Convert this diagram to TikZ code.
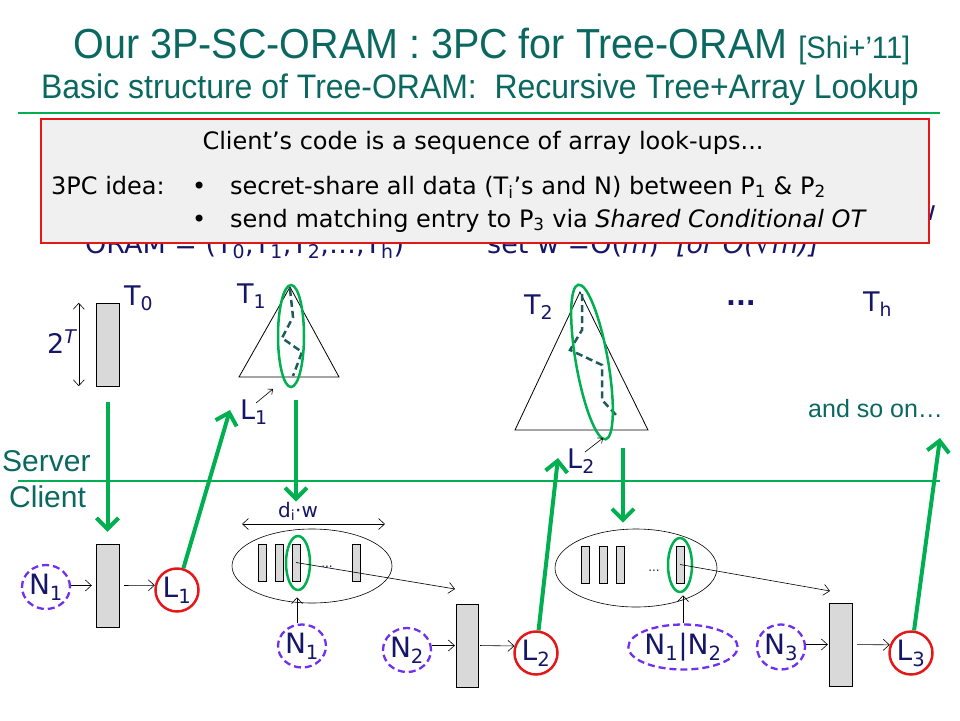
\documentclass[tikz,border=0pt]{standalone}
\usepackage{fontspec}
\setmainfont{DejaVu Sans}
\newfontfamily\titlefont[FakeStretch=0.94]{Liberation Sans}
\newfontfamily\arialfont{Liberation Sans}
\usepackage{tikz}
\usetikzlibrary{shapes,arrows,arrows.meta,calc}
\definecolor{titleteal}{RGB}{10,104,96}
\definecolor{navy}{RGB}{22,22,104}
\definecolor{pickgreen}{RGB}{0,176,80}
\definecolor{idxviolet}{RGB}{112,48,240}
\definecolor{leafred}{RGB}{228,24,24}
\definecolor{walkteal}{RGB}{30,92,92}
\definecolor{bucketgray}{RGB}{217,217,217}
\definecolor{boxgray}{RGB}{240,240,240}
\newcommand{\fsz}[1]{\fontsize{#1}{#1}\selectfont}
\tikzset{>={Straight Barb[length=6pt,width=11pt]},
  lbl/.style={text=navy, inner sep=0pt, anchor=base west, font=\fsz{27}},
  bucket/.style={draw, fill=bucketgray, minimum width=23pt, minimum height=83pt, inner sep=0pt},
  slot/.style={draw, fill=bucketgray, minimum width=8pt, minimum height=37pt, inner sep=0pt},
  leaf/.style={circle, draw=leafred, line width=2.5pt, minimum size=43pt, inner sep=0pt, text=navy, font=\fsz{28}},
  idx/.style={ellipse, draw=idxviolet, line width=2.3pt, dash pattern=on 7pt off 4pt, inner sep=0pt, text=navy, font=\fsz{28}},
  pick/.style={ellipse, draw=pickgreen, line width=2.5pt, inner sep=0pt},
  fetch/.style={-{Straight Barb[length=11pt,width=22pt]}, draw=pickgreen, line width=4pt},
  walk/.style={draw=walkteal, line width=2.5pt, dash pattern=on 7pt off 4pt},
  feed/.style={->, line width=0.6pt},
  sepline/.style={draw=pickgreen, line width=1.2pt},
  boxtxt/.style={text=black, font=\fsz{24}, inner sep=0pt, anchor=base west}
}
\begin{document}
\begin{tikzpicture}[x=1pt,y=-1pt]
\useasboundingbox (0,0) rectangle (960,720);
% title
\node[text=titleteal, font=\titlefont\fsz{42}, inner sep=0pt] (title) at (492,47) {Our 3P-SC-ORAM : 3PC for Tree-ORAM {\fsz{31}[Shi+’11]}};
\node[text=titleteal, font=\titlefont\fsz{34}, inner sep=0pt] (subtitle) at (480,90) {Basic structure of Tree-ORAM:\ \ Recursive Tree+Array Lookup};
\draw[sepline] (18,113) -- (940,113);
% text behind the box
\node[lbl] (oram) at (85,253) {ORAM = (T\textsubscript{0},T\textsubscript{1},T\textsubscript{2},…,T\textsubscript{h})};
\node[lbl] (setw) at (487,253) {set w =O(\textit{m})\ \ \textit{[or O(√m)]}};
\node[lbl] (wtail) at (914,220) {w};
% box
\node[draw=leafred, fill=boxgray, line width=1.8pt, minimum width=888pt, minimum height=124pt, anchor=north west, inner sep=0pt] (box) at (40,118) {};
\node[boxtxt, anchor=base] (code) at (483,149) {Client’s code is a sequence of array look-ups...};
\node[boxtxt] (idea) at (51,194) {3PC idea:};
\node[boxtxt] (bul1) at (192,194) {•};
\node[boxtxt] (share) at (230,194) {secret-share all data (T\textsubscript{i}’s and N) between P\textsubscript{1} \& P\textsubscript{2}};
\node[boxtxt] (bul2) at (192,227) {•};
\node[boxtxt] (send) at (230,227) {send matching entry to P\textsubscript{3} via \textit{Shared Conditional OT}};

% server side
\node[bucket] (tb0) at (107.5,344.5) {};
\node[lbl] (t0) at (124,305) {T\textsubscript{0}};
\draw[<->, line width=0.6pt] ([xshift=-17pt]tb0.north west) -- ([xshift=-17pt]tb0.south west);
\node[lbl] (tau) at (47,353) {2\textsuperscript{\textit{T}}};

\coordinate (t1top) at (290,287);
\draw[line width=0.8pt] (t1top) -- (339,377) -- (239,377) -- cycle;
\draw[walk] (290,289) -- (293,317) -- (282,338) -- (302,352) -- (293,376);
\node[pick, minimum width=26pt, minimum height=102pt] (pt1) at (291,336) {};
\node[lbl] (t1) at (237,303) {T\textsubscript{1}};
\node[lbl] (tl1) at (240,419) {L\textsubscript{1}};
\coordinate (leaf1) at (273,389);
\draw[feed, >={Straight Barb[length=4pt,width=7pt]}] (256,403) -- (leaf1);

\coordinate (t2top) at (580,292);
\draw[line width=0.8pt] (t2top) -- (648,430) -- (515,430) -- cycle;
\draw[walk] (582,294) -- (582,330) -- (570,350) -- (602,365) -- (602,400) -- (618,417);
\node[pick, rotate=10, minimum width=32pt, minimum height=157pt] (pt2) at (592,362) {};
\node[lbl] (t2) at (524,314) {T\textsubscript{2}};
\node[lbl] (tl2) at (567,468) {L\textsubscript{2}};
\coordinate (leaf2) at (603,438);
\draw[feed, >={Straight Barb[length=4pt,width=7pt]}] (585,452) -- (leaf2);

\node[lbl, font=\bfseries\fsz{26}] (more) at (726,305) {...};
\node[lbl] (th) at (863,311) {T\textsubscript{h}};
\node[text=titleteal, font=\arialfont\fsz{25}, inner sep=0pt, anchor=base west] (soon) at (808,417) {and so on…};

% server / client
\draw[sepline] (18,481) -- (940,481);
\node[text=titleteal, font=\arialfont\fsz{30}, inner sep=0pt, anchor=base west] (server) at (2,471) {Server};
\node[text=titleteal, font=\arialfont\fsz{30}, inner sep=0pt, anchor=base west] (client) at (9,507) {Client};

% client side, level 0
\node[idx, minimum width=42pt, minimum height=44pt] (n1a) at (46,587) {N\textsubscript{1}};
\node[bucket] (cb1) at (107.5,585.5) {};
\node[leaf] (l1) at (177,590) {L\textsubscript{1}};
\draw[feed, shorten >=4pt] (n1a.east |- cb1) -- (cb1.west);
\draw[feed, shorten <=5pt] (cb1.east) -- (l1.168);

% level 1
\node[ellipse, draw, line width=0.6pt, minimum width=160pt, minimum height=74pt, inner sep=0pt] (ell1) at (312,566) {};
\foreach \x [count=\i] in {262,279,296,356}
  \node[slot] (s1\i) at (\x,562.5) {};
\node[pick, minimum width=24pt, minimum height=54pt] (pk1) at (298,563) {};
\node[text=navy, font=\fsz{12}, inner sep=0pt] (dots1) at (327,567) {...};
\draw[<->, line width=0.6pt] (242,524) -- (385,524);
\node[lbl, font=\fsz{20}, anchor=base] (dw) at (298,517) {d\textsubscript{i}·w};
\node[idx, minimum width=43pt, minimum height=43pt] (n1b) at (302,646) {N\textsubscript{1}};
\draw[feed, shorten >=6pt] (n1b.north -| 297,0) -- (pk1.south -| 297,0);
\node[idx, minimum width=42pt, minimum height=44pt] (n2) at (407,650) {N\textsubscript{2}};
\node[bucket, minimum width=22pt] (cb2) at (467,645.5) {};
\node[leaf] (l2) at (536,653) {L\textsubscript{2}};
\coordinate (cb2in) at (455,589);
\draw[feed] (s13.center) -- (cb2in);
\draw[feed, shorten >=1pt] (n2.east |- cb2) -- (cb2.west);
\draw[feed, shorten <=2pt] (cb2.east) -- (l2.162);

% level 2
\node[ellipse, draw, line width=0.6pt, minimum width=162pt, minimum height=78pt, inner sep=0pt] (ell2) at (636,568) {};
\foreach \x [count=\i] in {585,603,620,680}
  \node[slot] (s2\i) at (\x,564.5) {};
\node[pick, minimum width=24pt, minimum height=54pt] (pk2) at (680,565) {};
\node[text=navy, font=\fsz{12}, inner sep=0pt] (dots2) at (654,571) {...};
\node[idx, minimum width=100pt, minimum height=45pt] (n12) at (683,647) {N\textsubscript{1}|N\textsubscript{2}};
\draw[feed, shorten >=2pt] (n12.north) -- (pk2.south -| n12.north);
\node[idx, minimum width=48pt, minimum height=45pt] (n3) at (781,647) {N\textsubscript{3}};
\node[bucket] (cb3) at (840.5,644.5) {};
\node[leaf] (l3) at (911,653) {L\textsubscript{3}};
\coordinate (cb3in) at (830,591);
\draw[feed] (s24.center) -- (cb3in);
\draw[feed, shorten >=1pt] (n3.east |- cb3) -- (cb3.west);
\draw[feed, shorten <=5pt] (cb3.east) -- (l3.159);

% server <-> client transfers
\draw[fetch, shorten <=16pt, shorten >=12pt] (tb0.south) -- (cb1.north);
\coordinate (l1up) at (230,410);
\draw[fetch] (l1) -- (l1up);
\coordinate (t1out) at (296,400);
\draw[fetch] (t1out) -- (t1out |- dw.north);
\coordinate (l2up) at (558,458);
\draw[fetch] (l2) -- (l2up);
\coordinate (t2out) at (623,448);
\draw[fetch, shorten >=6pt] (t2out) -- (t2out |- ell2.north);
\coordinate (l3up) at (940,438);
\draw[fetch] (l3) -- (l3up);
\end{tikzpicture}
\end{document}
